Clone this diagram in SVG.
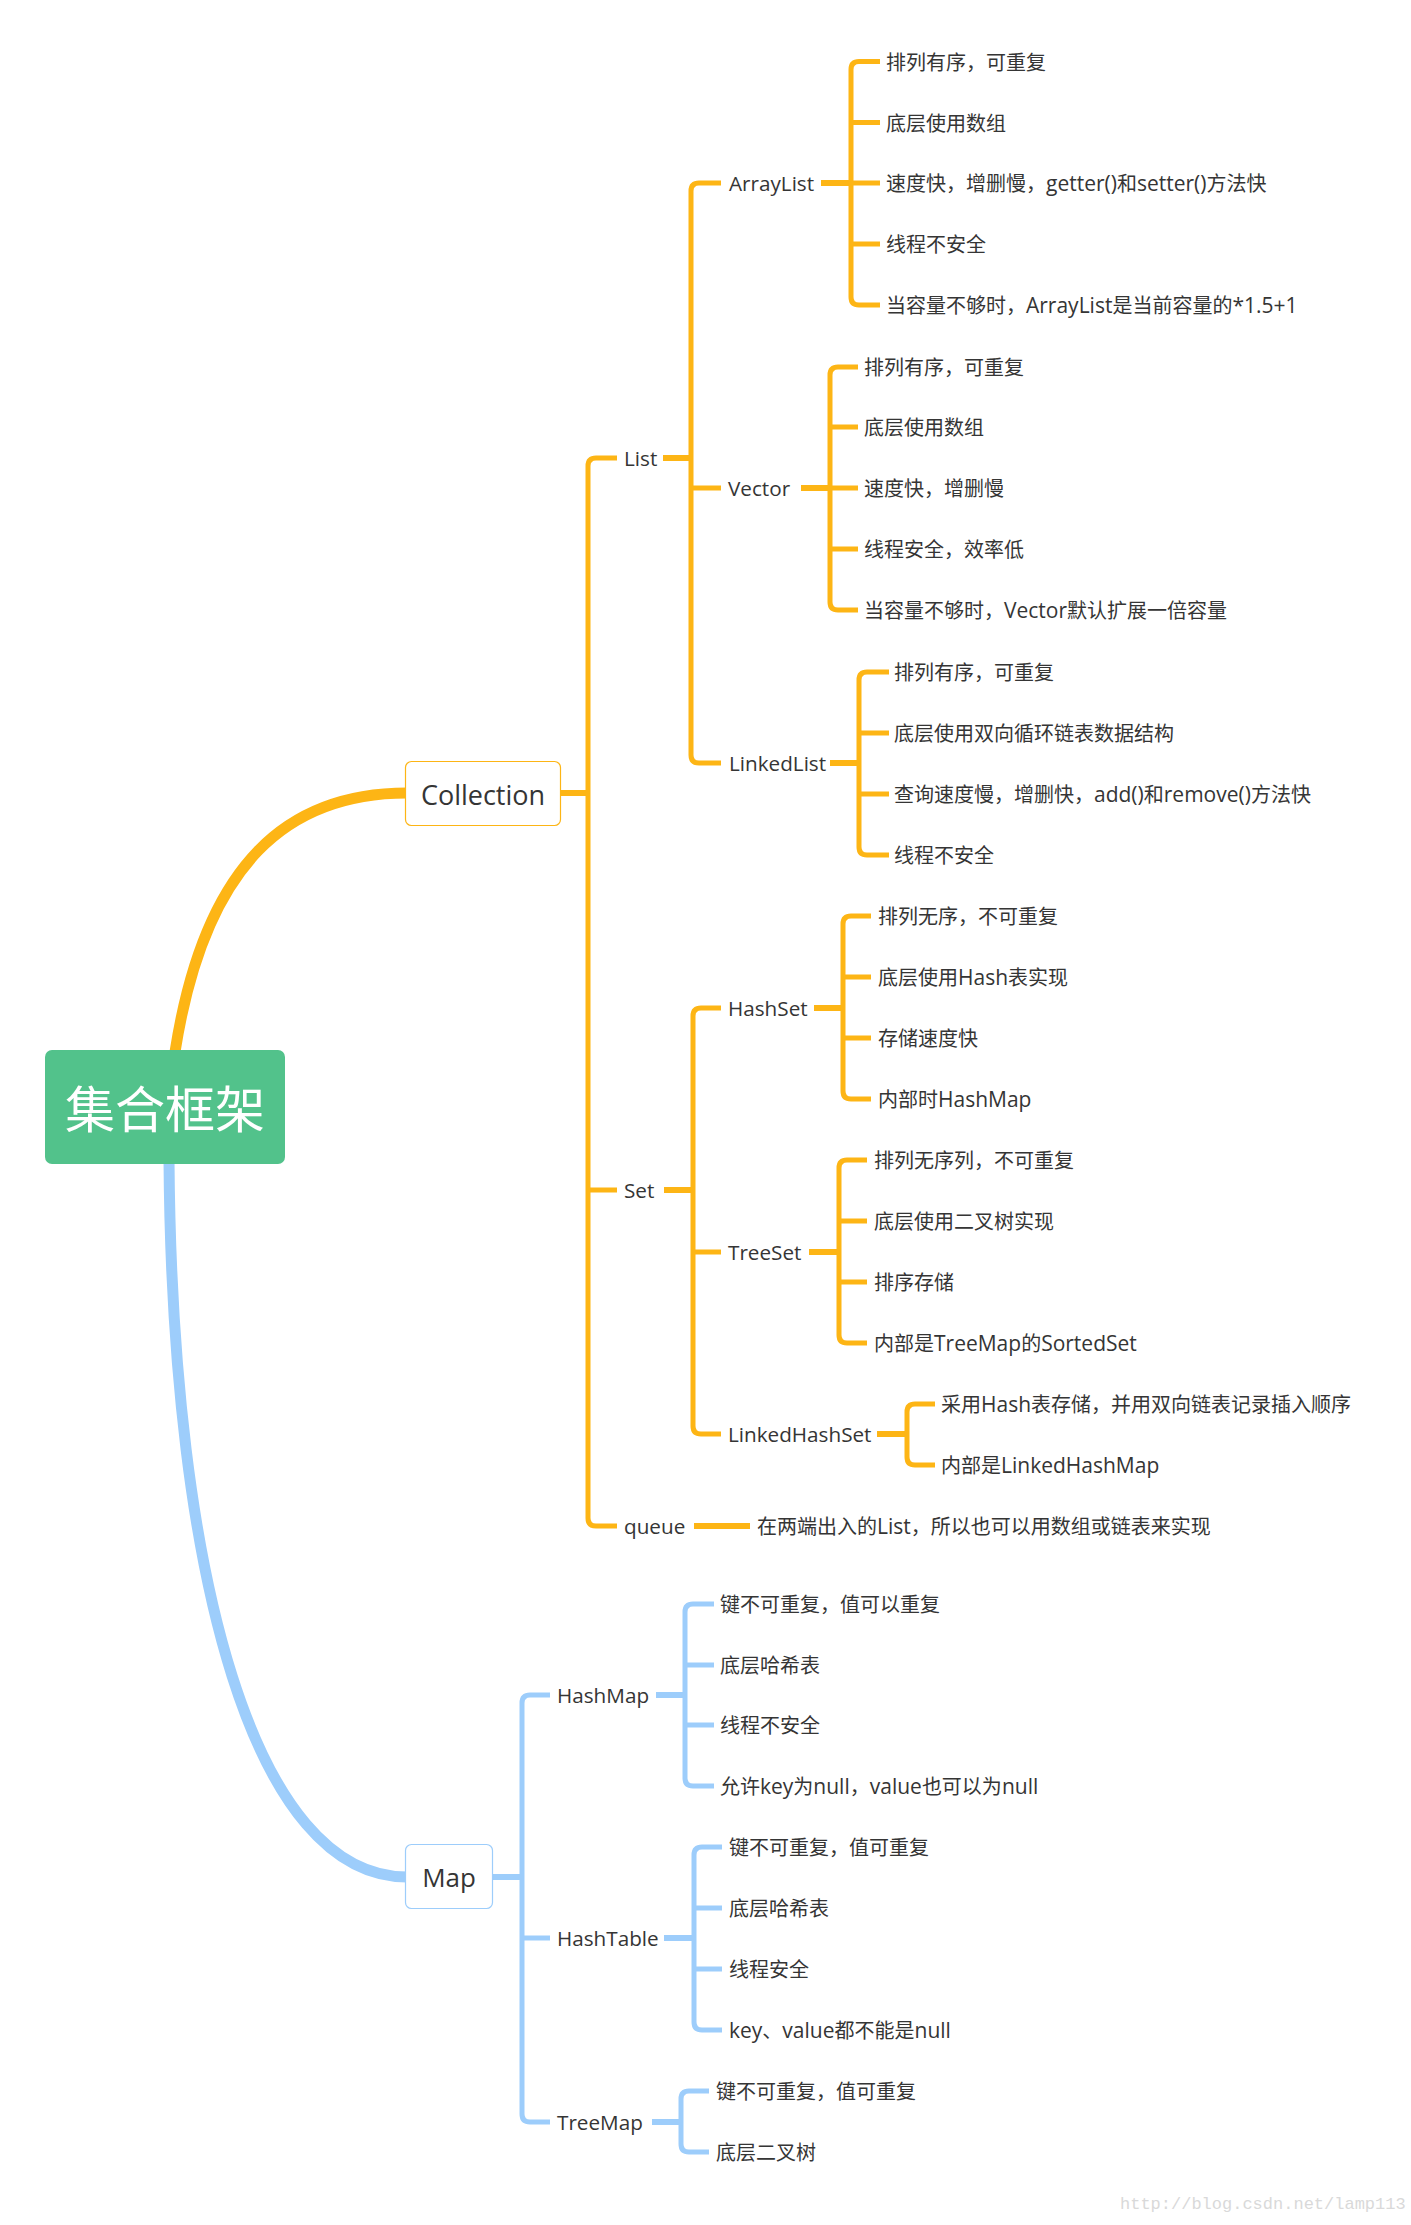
<svg xmlns="http://www.w3.org/2000/svg" width="1411" height="2225" viewBox="0 0 1411 2225">
<style>
.o{fill:none;stroke:#FDB515;stroke-width:5}
.b{fill:none;stroke:#9DCDFB;stroke-width:5}
.ps{stroke-width:6}
.t{font-family:"Open Sans","Noto Sans CJK SC",sans-serif;font-size:20px;fill:#353535}
.n{font-size:20.7px}
.l{font-size:21px}
.big{font-size:27px}
.root{font-family:"Noto Sans CJK SC",sans-serif;font-size:50px;fill:#ffffff}
.wm{font-family:"Liberation Mono",monospace;font-size:17px;fill:#d9d9d9}
</style>
<rect width="1411" height="2225" fill="#ffffff"/>
<g id="connectors">
<path class="o" style="stroke-width:11" d="M175 1052 C205 860 290 793 407 793"/>
<path class="b" style="stroke-width:11" d="M169 1160 C172 1580 255 1877 407 1877"/>
<path class="o ps" d="M560 793 H588"/>
<path class="o" d="M617 458 H596 Q588 458 588 466 V1518 Q588 1526 596 1526 H617 M588 1190 H617"/>
<path class="o ps" d="M663 458 H691"/>
<path class="o" d="M721 183 H699 Q691 183 691 191 V755 Q691 763 699 763 H721 M691 488 H721"/>
<path class="o ps" d="M821 183 H851"/>
<path class="o" d="M880 61.5 H859 Q851 61.5 851 69.5 V297 Q851 305 859 305 H880 M851 122.5 H880 M851 183 H880 M851 244 H880"/>
<path class="o ps" d="M801 488 H830"/>
<path class="o" d="M858 367 H838 Q830 367 830 375 V602 Q830 610 838 610 H858 M830 427 H858 M830 488 H858 M830 549 H858"/>
<path class="o ps" d="M830 763 H859"/>
<path class="o" d="M889 672 H867 Q859 672 859 680 V847 Q859 855 867 855 H889 M859 733 H889 M859 794 H889"/>
<path class="o ps" d="M664 1190 H693"/>
<path class="o" d="M721 1008 H701 Q693 1008 693 1016 V1426 Q693 1434 701 1434 H721 M693 1252 H721"/>
<path class="o ps" d="M814 1008 H843"/>
<path class="o" d="M871 916 H851 Q843 916 843 924 V1091 Q843 1099 851 1099 H871 M843 977 H871 M843 1038 H871"/>
<path class="o ps" d="M809 1252 H839"/>
<path class="o" d="M867 1160 H847 Q839 1160 839 1168 V1335 Q839 1343 847 1343 H867 M839 1221 H867 M839 1282 H867"/>
<path class="o ps" d="M877 1434 H907"/>
<path class="o" d="M935 1404 H915 Q907 1404 907 1412 V1457 Q907 1465 915 1465 H935"/>
<path class="o ps" d="M694 1526 H750"/>
<path class="b ps" d="M492 1877 H522"/>
<path class="b" d="M550 1695 H530 Q522 1695 522 1703 V2114 Q522 2122 530 2122 H550 M522 1938 H550"/>
<path class="b ps" d="M656 1695 H685"/>
<path class="b" d="M714 1604 H693 Q685 1604 685 1612 V1778 Q685 1786 693 1786 H714 M685 1665 H714 M685 1725 H714"/>
<path class="b ps" d="M664 1938 H694"/>
<path class="b" d="M722 1847 H702 Q694 1847 694 1855 V2022 Q694 2030 702 2030 H722 M694 1908 H722 M694 1969 H722"/>
<path class="b ps" d="M652 2122 H681"/>
<path class="b" d="M709 2091 H689 Q681 2091 681 2099 V2144 Q681 2152 689 2152 H709"/>
</g>
<g id="root">
<rect x="45" y="1050" width="240" height="114" rx="7" fill="#52C28B"/>
<text class="root" x="165" y="1128" text-anchor="middle">集合框架</text>
</g>
<g id="collection">
<rect x="405.5" y="761.5" width="155" height="64" rx="6" fill="#ffffff" stroke="#FDB515" stroke-width="1.2"/>
<text class="t big" x="483" y="805" text-anchor="middle">Collection</text>
</g>
<g id="map">
<rect x="405.5" y="1844.5" width="87" height="64" rx="6" fill="#ffffff" stroke="#9DCDFB" stroke-width="1.2"/>
<text class="t" style="font-size:26px" x="449" y="1887" text-anchor="middle">Map</text>
</g>
<g id="list"><text class="t n" x="624" y="466">List</text></g>
<g id="arraylist"><text class="t n" x="729" y="191">ArrayList</text>
<text class="t" x="886" y="69.5">排列有序，可重复</text>
<text class="t" x="886" y="130.5">底层使用数组</text>
<text class="t" x="886" y="191">速度快，增删慢，<tspan class="l">getter()</tspan>和<tspan class="l">setter()</tspan>方法快</text>
<text class="t" x="886" y="252">线程不安全</text>
<text class="t" x="886" y="313">当容量不够时，<tspan class="l">ArrayList</tspan>是当前容量的<tspan class="l">*1.5+1</tspan></text>
</g>
<g id="vector"><text class="t n" x="728" y="496">Vector</text>
<text class="t" x="864" y="375">排列有序，可重复</text>
<text class="t" x="864" y="435">底层使用数组</text>
<text class="t" x="864" y="496">速度快，增删慢</text>
<text class="t" x="864" y="557">线程安全，效率低</text>
<text class="t" x="864" y="618">当容量不够时，<tspan class="l">Vector</tspan>默认扩展一倍容量</text>
</g>
<g id="linkedlist"><text class="t n" x="729" y="771">LinkedList</text>
<text class="t" x="894" y="680">排列有序，可重复</text>
<text class="t" x="894" y="741">底层使用双向循环链表数据结构</text>
<text class="t" x="894" y="802">查询速度慢，增删快，<tspan class="l">add()</tspan>和<tspan class="l">remove()</tspan>方法快</text>
<text class="t" x="894" y="863">线程不安全</text>
</g>
<g id="set"><text class="t n" x="624" y="1198">Set</text></g>
<g id="hashset"><text class="t n" x="728" y="1016">HashSet</text>
<text class="t" x="878" y="924">排列无序，不可重复</text>
<text class="t" x="878" y="985">底层使用<tspan class="l">Hash</tspan>表实现</text>
<text class="t" x="878" y="1046">存储速度快</text>
<text class="t" x="878" y="1107">内部时<tspan class="l">HashMap</tspan></text>
</g>
<g id="treeset"><text class="t n" x="728" y="1260">TreeSet</text>
<text class="t" x="874" y="1168">排列无序列，不可重复</text>
<text class="t" x="874" y="1229">底层使用二叉树实现</text>
<text class="t" x="874" y="1290">排序存储</text>
<text class="t" x="874" y="1351">内部是<tspan class="l">TreeMap</tspan>的<tspan class="l">SortedSet</tspan></text>
</g>
<g id="linkedhashset"><text class="t n" x="728" y="1442">LinkedHashSet</text>
<text class="t" x="941" y="1412">采用<tspan class="l">Hash</tspan>表存储，并用双向链表记录插入顺序</text>
<text class="t" x="941" y="1473">内部是<tspan class="l">LinkedHashMap</tspan></text>
</g>
<g id="queue"><text class="t n" x="624" y="1534">queue</text>
<text class="t" x="757" y="1534">在两端出入的<tspan class="l">List</tspan>，所以也可以用数组或链表来实现</text>
</g>
<g id="hashmap"><text class="t n" x="557" y="1703">HashMap</text>
<text class="t" x="720" y="1612">键不可重复，值可以重复</text>
<text class="t" x="720" y="1673">底层哈希表</text>
<text class="t" x="720" y="1733">线程不安全</text>
<text class="t" x="720" y="1794">允许<tspan class="l">key</tspan>为<tspan class="l">null</tspan>，<tspan class="l">value</tspan>也可以为<tspan class="l">null</tspan></text>
</g>
<g id="hashtable"><text class="t n" x="557" y="1946">HashTable</text>
<text class="t" x="729" y="1855">键不可重复，值可重复</text>
<text class="t" x="729" y="1916">底层哈希表</text>
<text class="t" x="729" y="1977">线程安全</text>
<text class="t" x="729" y="2038"><tspan class="l">key</tspan>、<tspan class="l">value</tspan>都不能是<tspan class="l">null</tspan></text>
</g>
<g id="treemap"><text class="t n" x="557" y="2130">TreeMap</text>
<text class="t" x="716" y="2099">键不可重复，值可重复</text>
<text class="t" x="716" y="2160">底层二叉树</text>
</g>
<text class="wm" x="1120" y="2209">http://blog.csdn.net/lamp113</text>
</svg>
